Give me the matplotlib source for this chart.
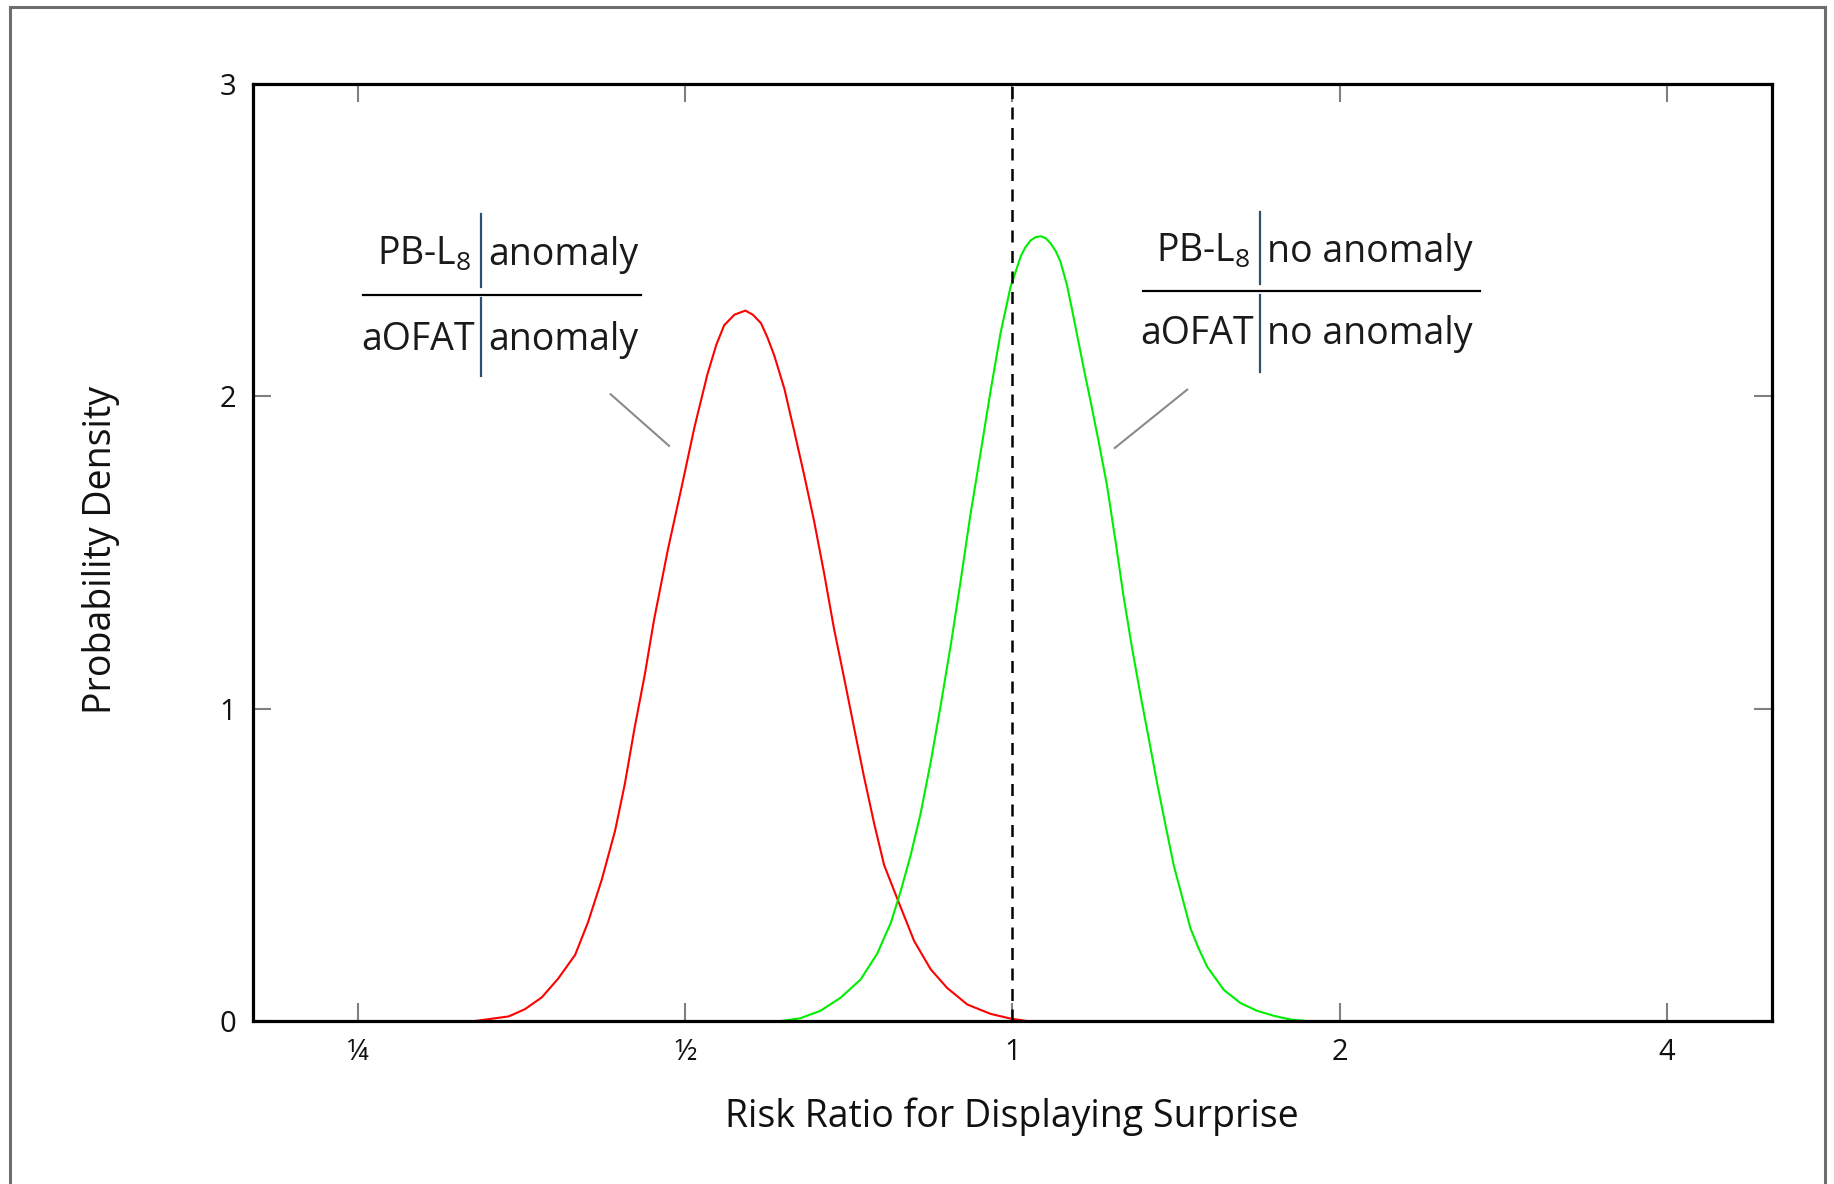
import matplotlib
matplotlib.use("Agg")
import matplotlib.pyplot as plt
from matplotlib.lines import Line2D
from matplotlib.ticker import FixedLocator, NullLocator

plt.rcParams['font.family'] = ['Open Sans', 'DejaVu Sans']
plt.rcParams['mathtext.fontset'] = 'custom'
plt.rcParams['mathtext.rm'] = 'Open Sans'
plt.rcParams['mathtext.default'] = 'regular'

# ---- data ----
red_x = [0.320, 0.344, 0.356, 0.369, 0.382, 0.396, 0.407, 0.419, 0.431, 0.440,
         0.449, 0.459, 0.468, 0.482, 0.496, 0.510, 0.524, 0.534, 0.543, 0.555,
         0.568, 0.577, 0.587, 0.595, 0.604, 0.617, 0.630, 0.643, 0.657, 0.671,
         0.685, 0.700, 0.715, 0.730, 0.746, 0.762, 0.784, 0.812, 0.841, 0.871,
         0.909, 0.955, 0.996, 1.032]
red_y = [0.000, 0.015, 0.038, 0.076, 0.136, 0.212, 0.317, 0.453, 0.610, 0.760,
         0.936, 1.110, 1.284, 1.510, 1.707, 1.903, 2.070, 2.165, 2.228, 2.262,
         2.275, 2.262, 2.235, 2.190, 2.130, 2.024, 1.888, 1.752, 1.601, 1.435,
         1.260, 1.100, 0.940, 0.785, 0.634, 0.500, 0.390, 0.257, 0.166, 0.106,
         0.053, 0.023, 0.008, 0.000]

green_x = [0.612, 0.638, 0.666, 0.695, 0.725, 0.751, 0.773, 0.789, 0.806, 0.823,
           0.841, 0.859, 0.878, 0.896, 0.915, 0.935, 0.955, 0.975, 0.996, 1.018,
           1.028, 1.039, 1.050, 1.062, 1.073, 1.084, 1.096, 1.107, 1.123, 1.139,
           1.164, 1.180, 1.201, 1.222, 1.244, 1.266, 1.289, 1.312, 1.335, 1.359,
           1.383, 1.408, 1.433, 1.458, 1.484, 1.511, 1.565, 1.621, 1.679, 1.740,
           1.802, 1.867]
green_y = [0.000, 0.009, 0.033, 0.075, 0.133, 0.216, 0.315, 0.414, 0.530, 0.662,
           0.828, 1.010, 1.208, 1.407, 1.622, 1.821, 2.019, 2.201, 2.350, 2.449,
           2.478, 2.499, 2.510, 2.513, 2.507, 2.491, 2.466, 2.433, 2.355, 2.250,
           2.085, 1.986, 1.853, 1.715, 1.539, 1.357, 1.192, 1.043, 0.905, 0.761,
           0.629, 0.497, 0.397, 0.298, 0.232, 0.174, 0.100, 0.058, 0.033, 0.017,
           0.005, 0.000]

x_ticks = [0.25, 0.5, 1, 2, 4]
x_tick_labels = ['¼', '½', '1', '2', '4']
y_ticks = [0, 1, 2, 3]
y_tick_labels = ['0', '1', '2', '3']
reference_ratio = 1.0

# ---- figure ----
fig = plt.figure(figsize=(18.34, 11.84), dpi=100)
fig.patch.set_facecolor('white')

# outer frame
for xs, ys in [([0.0055, 0.0055], [-0.01, 0.9941]),
               ([0.0055, 0.9951], [0.9941, 0.9941]),
               ([0.9951, 0.9951], [0.9941, -0.01])]:
    fig.add_artist(Line2D(xs, ys, transform=fig.transFigure, color='#6e6e6e', lw=2.2))

ax = fig.add_axes([0.1378, 0.1376, 0.8284, 0.7913])
ax.set_xscale('log', base=2)
ax.set_xlim(0.2, 5)
ax.set_ylim(0, 3)

ax.plot(red_x, red_y, color='#ff0000', lw=1.5, solid_joinstyle='round')
ax.plot(green_x, green_y, color='#00ee00', lw=1.5, solid_joinstyle='round')
ax.axvline(reference_ratio, color='black', lw=1.8, dashes=(4.8, 3.4))

ax.xaxis.set_major_locator(FixedLocator(x_ticks))
ax.xaxis.set_minor_locator(NullLocator())
ax.set_xticklabels(x_tick_labels)
ax.set_yticks(y_ticks)
ax.set_yticklabels(y_tick_labels)

for s in ax.spines.values():
    s.set_linewidth(2.3)
    s.set_color('black')
ax.tick_params(axis='both', which='major', direction='in', length=13, width=1.5,
               color='#808080', top=True, right=True, labelsize=21, pad=12,
               labelcolor='#111111')

ax.set_xlabel('Risk Ratio for Displaying Surprise', fontsize=27, color='#111111')
ax.set_ylabel('Probability Density', fontsize=27, color='#111111')
ax.xaxis.set_label_coords(0.4996, -0.1024)
ax.yaxis.set_label_coords(-0.1001, 0.503)
ax.xaxis.label.set_va('center')
ax.yaxis.label.set_va('center')

# ---- annotations ----
T = ax.transAxes
fs = 27
bar_col = '#2f4f6f'
txt_col = '#1a1a1a'


def fraction(xbar, xl0, xl1, yline, ytop, ybot, bar_top, bar_bot, num_left, den_left, right_txt):
    ax.text(xbar - 0.006, ytop, num_left, transform=T, ha='right', va='center',
            fontsize=fs, color=txt_col)
    ax.text(xbar + 0.005, ytop, right_txt, transform=T, ha='left', va='center',
            fontsize=fs, color=txt_col)
    ax.text(xbar - 0.004, ybot, den_left, transform=T, ha='right', va='center',
            fontsize=fs, color=txt_col)
    ax.text(xbar + 0.005, ybot, right_txt, transform=T, ha='left', va='center',
            fontsize=fs, color=txt_col)
    ax.add_line(Line2D([xl0, xl1], [yline, yline], transform=T, color='black', lw=1.6))
    ax.add_line(Line2D([xbar, xbar], bar_top, transform=T, color=bar_col, lw=1.6))
    ax.add_line(Line2D([xbar, xbar], bar_bot, transform=T, color=bar_col, lw=1.6))


fraction(0.150, 0.0724, 0.2556, 0.775, 0.818, 0.727,
         [0.784, 0.861], [0.688, 0.7715], 'PB-L$_8$', 'aOFAT', 'anomaly')
fraction(0.6628, 0.5858, 0.8076, 0.779, 0.821, 0.733,
         [0.7865, 0.8639], [0.6929, 0.7753], 'PB-L$_8$', 'aOFAT', 'no anomaly')

# leader lines
ax.add_line(Line2D([0.2356, 0.274], [0.669, 0.614], transform=T, color='#8a8a8a', lw=1.5))
ax.add_line(Line2D([0.6151, 0.5674], [0.674, 0.6117], transform=T, color='#8a8a8a', lw=1.5))

fig.savefig('out.png', dpi=100, facecolor='white')
